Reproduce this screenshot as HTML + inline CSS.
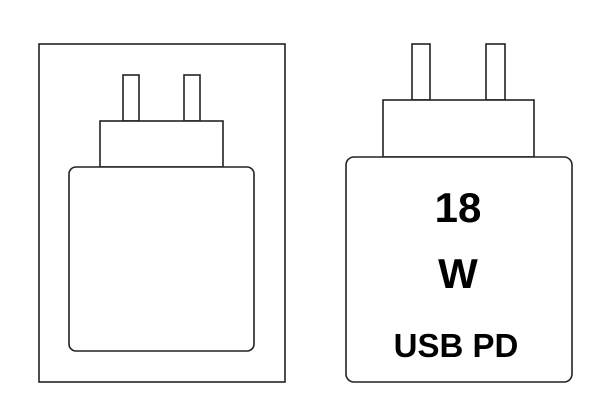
<!DOCTYPE html>
<html><head><meta charset="utf-8"><style>
html,body{margin:0;padding:0;background:#fff;width:600px;height:410px;overflow:hidden}
</style></head><body>
<svg width="600" height="410" viewBox="0 0 600 410" xmlns="http://www.w3.org/2000/svg">
<g fill="#fff" stroke="#222" stroke-width="1.6">
<rect x="39" y="44" width="246" height="338"/>
<rect x="123" y="75" width="16" height="46"/>
<rect x="184" y="75" width="16" height="46"/>
<rect x="100" y="121" width="123" height="46"/>
<rect x="69" y="167" width="185" height="184" rx="7"/>
<rect x="412" y="44" width="18" height="56"/>
<rect x="486" y="44" width="19" height="56"/>
<rect x="383" y="100" width="151" height="57"/>
<rect x="346" y="157" width="226" height="225" rx="8"/>
</g>
<g font-family="Liberation Sans, sans-serif" font-weight="bold" fill="#000" text-anchor="middle">
<text x="458" y="222" font-size="42">18</text>
<text x="458" y="288" font-size="42">W</text>
<text x="456" y="357" font-size="33">USB PD</text>
</g>
</svg>
</body></html>
